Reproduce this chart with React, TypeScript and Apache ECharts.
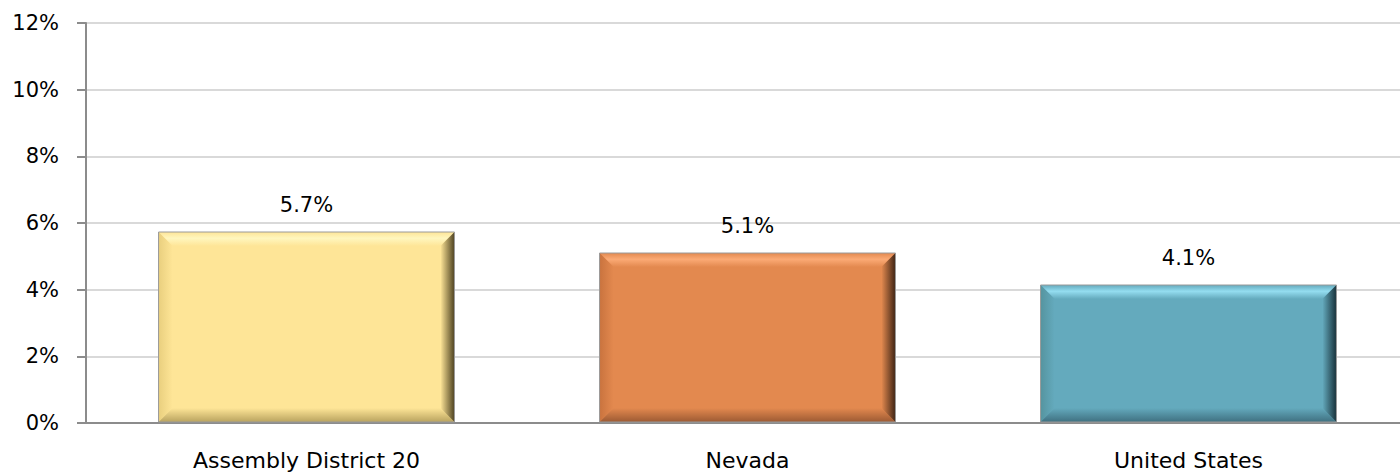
import React, { useEffect, useRef } from "react";
import * as echarts from "echarts";

const categories = ["Assembly District 20", "Nevada", "United States"];
const values = [5.73, 5.1, 4.14];
const valueLabels = ["5.7%", "5.1%", "4.1%"];
const yTicks = [0, 2, 4, 6, 8, 10, 12];

const palettes = [
  { base: "#FEE597", light: "#FFF6BE", side: "#E9CF7E", dark: "#4E4220", bottom: "#B9A35F" },
  { base: "#E3894F", light: "#FBAA75", side: "#C9733E", dark: "#3F2414", bottom: "#9C5A33" },
  { base: "#64AABD", light: "#94DDF0", side: "#55949F", dark: "#17313A", bottom: "#3F7080" },
];

export default function App() {
  const ref = useRef<HTMLDivElement>(null);
  useEffect(() => {
    document.body.style.margin = "0";
    document.body.style.overflow = "hidden";
    const chart = echarts.init(ref.current!, null, { renderer: "svg" });
    const font = "'DejaVu Sans', sans-serif";
    const option: any = {
      animation: false,
      backgroundColor: "#ffffff",
      grid: { left: 86, right: 1, top: 23, bottom: 50, containLabel: false },
      xAxis: {
        type: "category",
        data: categories,
        axisLine: { lineStyle: { color: "#8C8C8C", width: 2 } },
        axisTick: { show: false },
        axisLabel: { color: "#000", fontSize: 22, fontFamily: font, margin: 26 },
      },
      yAxis: {
        type: "value",
        min: yTicks[0],
        max: yTicks[yTicks.length - 1],
        interval: 2,
        axisLine: { show: true, lineStyle: { color: "#8C8C8C", width: 2 } },
        axisTick: { show: true, length: 9, lineStyle: { color: "#8C8C8C", width: 2 } },
        splitLine: { lineStyle: { color: "#D9D9D9", width: 2 } },
        axisLabel: { color: "#000", fontSize: 21, fontFamily: font, margin: 27, formatter: (v: number) => v + "%" },
      },
      series: [
        {
          type: "custom",
          data: values.map((v, i) => [i, v]),
          encode: { x: 0, y: 1 },
          renderItem: (params: any, api: any) => {
            const idx = api.value(0);
            const val = api.value(1);
            const top = api.coord([idx, val]);
            const base = api.coord([idx, 0]);
            const band = api.size([1, 0])[0];
            const w = band * 0.671;
            const x0 = top[0] - w / 2;
            const x1 = top[0] + w / 2;
            const y0 = top[1];
            const y1 = base[1] - 1;
            const b = 14;
            const p = palettes[idx];
            const LG = echarts.graphic.LinearGradient;
            return {
              type: "group",
              children: [
                { type: "rect", shape: { x: x0, y: y0, width: w, height: y1 - y0 }, style: { fill: p.base } },
                {
                  type: "polygon",
                  shape: { points: [[x0, y0], [x1, y0], [x1 - b, y0 + b], [x0 + b, y0 + b]] },
                  style: { fill: new LG(0, 0, 0, 1, [{ offset: 0, color: p.base }, { offset: 0.45, color: p.light }, { offset: 1, color: p.base }]) },
                },
                {
                  type: "polygon",
                  shape: { points: [[x0, y0], [x0 + b, y0 + b], [x0 + b, y1 - b], [x0, y1]] },
                  style: { fill: new LG(0, 0, 1, 0, [{ offset: 0, color: p.side }, { offset: 1, color: p.base }]) },
                },
                {
                  type: "polygon",
                  shape: { points: [[x0, y1], [x1, y1], [x1 - b, y1 - b], [x0 + b, y1 - b]] },
                  style: { fill: new LG(0, 0, 0, 1, [{ offset: 0, color: p.base }, { offset: 1, color: p.bottom }]) },
                },
                {
                  type: "polygon",
                  shape: { points: [[x1, y0], [x1 - b, y0 + b], [x1 - b, y1 - b], [x1, y1]] },
                  style: { fill: new LG(0, 0, 1, 0, [{ offset: 0, color: p.base }, { offset: 1, color: p.dark }]) },
                },
                {
                  type: "rect",
                  shape: { x: x0, y: y0, width: w, height: y1 - y0 },
                  style: { fill: "none", stroke: "#9A9A9A", lineWidth: 1 },
                },
                {
                  type: "text",
                  x: top[0],
                  y: y0 - 27,
                  style: {
                    text: valueLabels[idx],
                    fill: "#000",
                    fontSize: 21,
                    fontFamily: font,
                    align: "center",
                    verticalAlign: "middle",
                  },
                },
              ],
            };
          },
        },
      ],
    };
    chart.setOption(option);
    return () => chart.dispose();
  }, []);
  return <div ref={ref} style={{ width: 1410, height: 473 }} />;
}
